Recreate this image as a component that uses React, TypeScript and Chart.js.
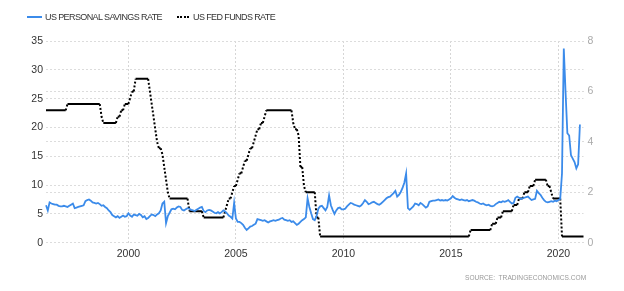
import React, { useEffect, useRef } from "react";
import { Chart, registerables } from "chart.js";

Chart.register(...registerables);

// ---- categories (monthly, Mar 1996 .. Mar 2021)
const firstYear = 1996;
const firstMonth = 3;
const lastYear = 2021;
const lastMonth = 3;

const months: string[] = [];
for (let y = firstYear; y <= lastYear; y++) {
  const m0 = y === firstYear ? firstMonth : 1;
  const m1 = y === lastYear ? lastMonth : 12;
  for (let m = m0; m <= m1; m++) months.push(`${y}-${m < 10 ? "0" + m : m}`);
}

const yearTickLabels = ["2000", "2005", "2010", "2015", "2020"];
const sourceText = "SOURCE:  TRADINGECONOMICS.COM";
const seriesNames = ["US PERSONAL SAVINGS RATE", "US FED FUNDS RATE"];

// ---- US personal savings rate (left axis, %)
const savingsRate: (number | null)[] = [
  // 1996 (Mar-Dec)
  6.5, 5.6, 7.0, 6.8, 6.7, 6.6, 6.6, 6.4, 6.3, 6.3,
  // 1997
  6.4, 6.3, 6.2, 6.4, 6.6, 6.8, 6.0, 6.1, 6.2, 6.3, 6.4, 6.5,
  // 1998
  7.2, 7.4, 7.5, 7.3, 7.0, 6.9, 6.8, 6.9, 6.7, 6.4, 6.5, 6.2,
  // 1999
  6.0, 5.6, 5.3, 4.8, 4.6, 4.4, 4.6, 4.3, 4.5, 4.7, 4.5, 4.6,
  // 2000
  5.1, 4.7, 4.5, 4.9, 4.8, 4.7, 5.0, 4.8, 4.4, 4.6, 4.1, 4.3,
  // 2001
  4.6, 4.9, 4.8, 4.6, 4.9, 5.1, 5.6, 6.8, 7.1, 3.4, 4.6, 5.2,
  // 2002
  5.8, 5.9, 5.8, 6.1, 6.3, 6.2, 5.7, 5.6, 5.8, 6.0, 5.9, 5.7,
  // 2003
  5.6, 5.5, 5.7, 5.9, 6.1, 6.2, 5.5, 5.3, 5.6, 5.7, 5.6, 5.4,
  // 2004
  5.2, 5.1, 5.3, 5.1, 5.3, 5.6, 5.4, 5.1, 4.7, 4.5, 4.2, 6.9,
  // 2005
  4.2, 3.6, 3.6, 3.4, 3.1, 2.6, 2.2, 2.5, 2.8, 2.9, 3.1, 3.3,
  // 2006
  4.1, 4.0, 3.9, 3.8, 3.9, 3.7, 3.5, 3.7, 3.8, 3.9, 3.8, 3.9,
  // 2007
  4.0, 4.2, 4.3, 4.0, 3.9, 3.8, 3.9, 3.6, 3.7, 3.4, 3.1, 3.3,
  // 2008
  3.6, 3.9, 4.1, 4.4, 7.7, 6.2, 5.1, 4.1, 3.9, 4.6, 5.9, 6.3,
  // 2009
  6.4, 6.0, 5.6, 6.2, 8.2, 6.5, 5.7, 5.0, 5.6, 6.0, 6.1, 5.8,
  // 2010
  5.8, 5.9, 6.3, 6.6, 6.9, 6.8, 6.6, 6.5, 6.4, 6.3, 6.5, 6.9,
  // 2011
  7.4, 7.1, 6.7, 6.8, 7.0, 7.1, 6.9, 6.7, 6.6, 6.8, 7.1, 7.4,
  // 2012
  7.7, 7.9, 8.0, 8.3, 8.6, 9.0, 8.0, 8.3, 8.8, 9.5, 10.4, 12.0,
  // 2013
  6.0, 5.7, 6.0, 6.3, 6.8, 6.7, 6.5, 6.9, 6.7, 6.4, 6.1, 6.3,
  // 2014
  7.1, 7.2, 7.3, 7.3, 7.4, 7.5, 7.3, 7.4, 7.3, 7.4, 7.3, 7.5,
  // 2015
  7.7, 8.1, 7.8, 7.6, 7.5, 7.4, 7.5, 7.4, 7.3, 7.4, 7.2, 7.3,
  // 2016
  7.4, 7.3, 7.1, 7.0, 6.8, 6.7, 6.8, 6.6, 6.5, 6.6, 6.4, 6.3,
  // 2017
  6.4, 6.7, 6.9, 7.1, 7.0, 7.2, 7.1, 7.2, 7.4, 7.1, 6.8, 6.9,
  // 2018
  7.8, 8.0, 7.8, 7.6, 7.7, 7.8, 7.9, 8.0, 7.7, 7.4, 7.5, 7.6,
  // 2019
  9.0, 8.6, 8.3, 7.8, 7.4, 7.1, 7.0, 7.1, 7.2, 7.1, 7.3, 7.2,
  // 2020
  7.4, 7.6, 12.0, 33.7, 26.0, 19.0, 18.6, 15.2, 14.6, 14.0, 12.9, 13.6,
  // 2021 (Jan-Mar)
  20.5, null, null,
];

// ---- US fed funds rate (right axis, %)
const fedFundsRate: number[] = [
  // 1996 (Mar-Dec)
  5.25, 5.25, 5.25, 5.25, 5.25, 5.25, 5.25, 5.25, 5.25, 5.25,
  // 1997
  5.25, 5.25, 5.5, 5.5, 5.5, 5.5, 5.5, 5.5, 5.5, 5.5, 5.5, 5.5,
  // 1998
  5.5, 5.5, 5.5, 5.5, 5.5, 5.5, 5.5, 5.5, 5.5, 5.0, 4.75, 4.75,
  // 1999
  4.75, 4.75, 4.75, 4.75, 4.75, 4.75, 5.0, 5.0, 5.25, 5.25, 5.5, 5.5,
  // 2000
  5.5, 5.75, 6.0, 6.0, 6.5, 6.5, 6.5, 6.5, 6.5, 6.5, 6.5, 6.5,
  // 2001
  6.0, 5.5, 5.0, 4.5, 4.0, 3.75, 3.75, 3.5, 3.0, 2.5, 2.0, 1.75,
  // 2002
  1.75, 1.75, 1.75, 1.75, 1.75, 1.75, 1.75, 1.75, 1.75, 1.75, 1.25, 1.25,
  // 2003
  1.25, 1.25, 1.25, 1.25, 1.25, 1.25, 1.0, 1.0, 1.0, 1.0, 1.0, 1.0,
  // 2004
  1.0, 1.0, 1.0, 1.0, 1.0, 1.0, 1.25, 1.5, 1.75, 1.75, 2.0, 2.25,
  // 2005
  2.25, 2.5, 2.75, 2.75, 3.0, 3.25, 3.25, 3.5, 3.75, 3.75, 4.0, 4.25,
  // 2006
  4.5, 4.5, 4.75, 4.75, 5.0, 5.25, 5.25, 5.25, 5.25, 5.25, 5.25, 5.25,
  // 2007
  5.25, 5.25, 5.25, 5.25, 5.25, 5.25, 5.25, 5.25, 4.75, 4.5, 4.5, 4.25,
  // 2008
  3.0, 3.0, 2.25, 2.0, 2.0, 2.0, 2.0, 2.0, 2.0, 1.0, 1.0, 0.25,
  // 2009
  0.25, 0.25, 0.25, 0.25, 0.25, 0.25, 0.25, 0.25, 0.25, 0.25, 0.25, 0.25,
  // 2010
  0.25, 0.25, 0.25, 0.25, 0.25, 0.25, 0.25, 0.25, 0.25, 0.25, 0.25, 0.25,
  // 2011
  0.25, 0.25, 0.25, 0.25, 0.25, 0.25, 0.25, 0.25, 0.25, 0.25, 0.25, 0.25,
  // 2012
  0.25, 0.25, 0.25, 0.25, 0.25, 0.25, 0.25, 0.25, 0.25, 0.25, 0.25, 0.25,
  // 2013
  0.25, 0.25, 0.25, 0.25, 0.25, 0.25, 0.25, 0.25, 0.25, 0.25, 0.25, 0.25,
  // 2014
  0.25, 0.25, 0.25, 0.25, 0.25, 0.25, 0.25, 0.25, 0.25, 0.25, 0.25, 0.25,
  // 2015
  0.25, 0.25, 0.25, 0.25, 0.25, 0.25, 0.25, 0.25, 0.25, 0.25, 0.25, 0.5,
  // 2016
  0.5, 0.5, 0.5, 0.5, 0.5, 0.5, 0.5, 0.5, 0.5, 0.5, 0.5, 0.75,
  // 2017
  0.75, 0.75, 1.0, 1.0, 1.0, 1.25, 1.25, 1.25, 1.25, 1.25, 1.25, 1.5,
  // 2018
  1.5, 1.5, 1.75, 1.75, 1.75, 2.0, 2.0, 2.0, 2.25, 2.25, 2.25, 2.5,
  // 2019
  2.5, 2.5, 2.5, 2.5, 2.5, 2.5, 2.25, 2.25, 2.0, 1.75, 1.75, 1.75,
  // 2020
  1.75, 1.75, 0.25, 0.25, 0.25, 0.25, 0.25, 0.25, 0.25, 0.25, 0.25, 0.25,
  // 2021 (Jan-Mar)
  0.25, 0.25, 0.25,
];

const BLUE = "#3b8bea";
const FONT = "'Liberation Sans', Arial, sans-serif";

function isYearTick(index: number): string | null {
  const m = months[index];
  if (!m || !m.endsWith("-01")) return null;
  const y = m.slice(0, 4);
  return yearTickLabels.includes(y) ? y : null;
}

export default function App() {
  const canvasRef = useRef<HTMLCanvasElement | null>(null);

  useEffect(() => {
    if (!canvasRef.current) return;
    const chart = new Chart(canvasRef.current, {
      type: "line",
      data: {
        labels: months,
        datasets: [
          {
            label: seriesNames[0],
            data: savingsRate,
            yAxisID: "y",
            borderColor: BLUE,
            backgroundColor: BLUE,
            borderWidth: 1.8,
            pointRadius: 0,
            tension: 0,
            spanGaps: false,
          },
          {
            label: seriesNames[1],
            data: fedFundsRate,
            yAxisID: "y1",
            borderColor: "#000000",
            backgroundColor: "#000000",
            borderWidth: 2,
            pointRadius: 0,
            tension: 0,
            segment: {
              borderDash: (ctx: any) =>
                ctx.p0.parsed.y === ctx.p1.parsed.y ? [] : [2, 2],
            },
          },
        ],
      },
      options: {
        responsive: false,
        animation: false,
        events: [],
        layout: { padding: { top: 41, left: 0, right: 0, bottom: 0 } },
        plugins: {
          legend: { display: false },
          tooltip: { enabled: false },
        },
        scales: {
          x: {
            type: "category",
            offset: false,
            border: { display: false, dash: [2, 2] },
            grid: {
              drawTicks: false,
              lineWidth: 1,
              color: (ctx: any) =>
                isYearTick(ctx.index) ? "#d6d6d6" : "rgba(0,0,0,0)",
            },
            ticks: {
              autoSkip: false,
              maxRotation: 0,
              minRotation: 0,
              padding: 5,
              color: "#333333",
              font: { family: FONT, size: 10.5 },
              callback: (_v: any, index: number) => isYearTick(index) || "",
            },
            afterFit: (s: any) => {
              s.height = 48.3;
            },
          },
          y: {
            position: "left",
            min: 0,
            max: 35,
            border: { display: false, dash: [2, 2] },
            grid: { drawTicks: false, color: "#dcdcdc", lineWidth: 1 },
            ticks: {
              stepSize: 5,
              padding: 3,
              color: "#333333",
              font: { family: FONT, size: 10.5 },
            },
            afterFit: (s: any) => {
              s.width = 46;
            },
          },
          y1: {
            position: "right",
            min: 0,
            max: 8,
            border: { display: false, dash: [2, 2] },
            grid: { drawTicks: false, color: "#dcdcdc", lineWidth: 1 },
            ticks: {
              stepSize: 2,
              padding: 4,
              color: "#aaaaaa",
              font: { family: FONT, size: 10.5 },
            },
            afterFit: (s: any) => {
              s.width = 40.5;
            },
          },
        },
      },
    } as any);
    return () => chart.destroy();
  }, []);

  const legendText: React.CSSProperties = {
    position: "absolute",
    top: 12,
    fontFamily: FONT,
    fontSize: 9,
    lineHeight: "10px",
    letterSpacing: "-0.6px",
    color: "#333333",
    whiteSpace: "nowrap",
  };

  return (
    <div
      style={{
        position: "fixed",
        left: 0,
        top: 0,
        width: 624,
        height: 291,
        background: "#ffffff",
        overflow: "hidden",
      }}
    >
      <canvas
        ref={canvasRef}
        width={624}
        height={291}
        style={{ position: "absolute", left: 0, top: 0, width: 624, height: 291 }}
      />
      <div
        style={{
          position: "absolute",
          left: 27,
          top: 16,
          width: 15,
          height: 2,
          background: BLUE,
        }}
      />
      <div style={{ ...legendText, left: 45 }}>{seriesNames[0]}</div>
      <div
        style={{
          position: "absolute",
          left: 177,
          top: 16,
          width: 12,
          height: 0,
          borderTop: "2px dotted #000000",
        }}
      />
      <div style={{ ...legendText, left: 193 }}>{seriesNames[1]}</div>
      <div
        style={{
          position: "absolute",
          left: 465,
          top: 274,
          fontFamily: FONT,
          fontSize: 6.6,
          lineHeight: "8px",
          color: "#999999",
          whiteSpace: "pre",
        }}
      >
        {sourceText}
      </div>
    </div>
  );
}
